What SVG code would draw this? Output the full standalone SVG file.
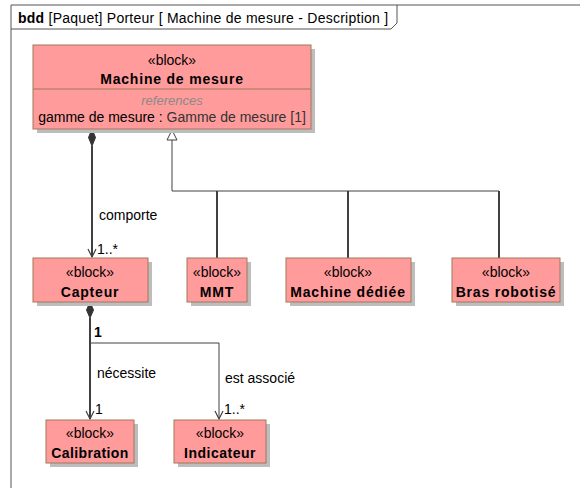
<svg xmlns="http://www.w3.org/2000/svg" width="580" height="488" viewBox="0 0 580 488">
<defs>
<style>
text{font-family:"Liberation Sans",Arial,sans-serif;font-size:14px;fill:#000}
.b{font-weight:bold}
.t{font-weight:bold;letter-spacing:0.8px}
.c{text-anchor:middle}
.box{fill:#ff9b9b;stroke:#a0765a;stroke-width:1}
.sh{fill:#bdbdbd}
.ln{fill:none;stroke:#404040;stroke-width:1}
.th{fill:none;stroke:#404040;stroke-width:2}
.gray{fill:#8a8a8a;font-style:italic;font-size:13px}
</style>
<marker id="open" markerWidth="12" markerHeight="12" refX="10" refY="6" orient="auto" markerUnits="userSpaceOnUse" viewBox="0 0 12 12">
<path d="M2,2 L10,6 L2,10" fill="none" stroke="#404040" stroke-width="1.2"/>
</marker>
</defs>
<rect x="0" y="0" width="580" height="488" fill="#fff"/>
<g id="frame">
<path d="M11,488 L11,5 L580,5" fill="none" stroke="#555" stroke-width="1"/>
<path d="M11,29 L391,29 L397,23 L397,5" fill="none" stroke="#555" stroke-width="1"/>
<text x="18" y="23" style="letter-spacing:0.25px"><tspan class="b">bdd</tspan> [Paquet] Porteur [ Machine de mesure - Description ]</text>
</g>
<g id="connectors">
<path class="th" d="M92,146 L92,257" marker-end="url(#open)"/>
<path d="M92,129 L95.5,137.5 L92,146 L88.5,137.5 Z" fill="#333" stroke="#333"/>
<text x="99" y="220">comporte</text>
<text x="97" y="254">1..*</text>
<path class="ln" d="M172,140 L172,191 L499,191"/>
<path d="M172,130 L177,140 L167,140 Z" fill="#fff" stroke="#404040"/>
<path class="th" d="M217,191 L217,258 M348,191 L348,258 M499,191 L499,258"/>
<path class="th" d="M90,318 L90,419" marker-end="url(#open)"/>
<path d="M90,302 L93.5,310 L90,318 L86.5,310 Z" fill="#333" stroke="#333"/>
<path class="ln" d="M90,343 L219,343 L219,419" marker-end="url(#open)"/>
<text x="94" y="337" class="b">1</text>
<text x="97" y="378">nécessite</text>
<text x="225" y="383">est associé</text>
<text x="95" y="414">1</text>
<text x="224" y="414">1..*</text>
</g>
<g id="machine">
<rect class="sh" x="37" y="49" width="278" height="84"/>
<rect class="box" x="33" y="45" width="278" height="84"/>
<line x1="33" y1="89" x2="311" y2="89" stroke="#a0765a"/>
<text class="c" x="172" y="65">«block»</text>
<text class="c t" x="172" y="84">Machine de mesure</text>
<text class="c gray" x="172" y="105">references</text>
<text class="c" x="172" y="122">gamme de mesure : <tspan fill="#333">Gamme de mesure [1]</tspan></text>
</g>
<g id="capteur">
<rect class="sh" x="37" y="262" width="115" height="44"/>
<rect class="box" x="33" y="258" width="115" height="44"/>
<text class="c" x="90" y="277">«block»</text>
<text class="c t" x="90" y="297">Capteur</text>
</g>
<g id="mmt">
<rect class="sh" x="191" y="262" width="60" height="44"/>
<rect class="box" x="187" y="258" width="60" height="44"/>
<text class="c" x="217" y="277">«block»</text>
<text class="c t" x="217" y="297">MMT</text>
</g>
<g id="dediee">
<rect class="sh" x="290" y="262" width="125" height="44"/>
<rect class="box" x="286" y="258" width="125" height="44"/>
<text class="c" x="348" y="277">«block»</text>
<text class="c t" x="348" y="297">Machine dédiée</text>
</g>
<g id="bras">
<rect class="sh" x="456" y="262" width="108" height="44"/>
<rect class="box" x="452" y="258" width="108" height="44"/>
<text class="c" x="506" y="277">«block»</text>
<text class="c t" x="506" y="297">Bras robotisé</text>
</g>
<g id="calibration">
<rect class="sh" x="50" y="424" width="88" height="43"/>
<rect class="box" x="46" y="420" width="88" height="43"/>
<text class="c" x="90" y="438">«block»</text>
<text class="c t" x="90" y="458" style="letter-spacing:0.4px">Calibration</text>
</g>
<g id="indicateur">
<rect class="sh" x="178" y="424" width="92" height="43"/>
<rect class="box" x="174" y="420" width="92" height="43"/>
<text class="c" x="220" y="438">«block»</text>
<text class="c t" x="220" y="458" style="letter-spacing:0.5px">Indicateur</text>
</g>
</svg>
